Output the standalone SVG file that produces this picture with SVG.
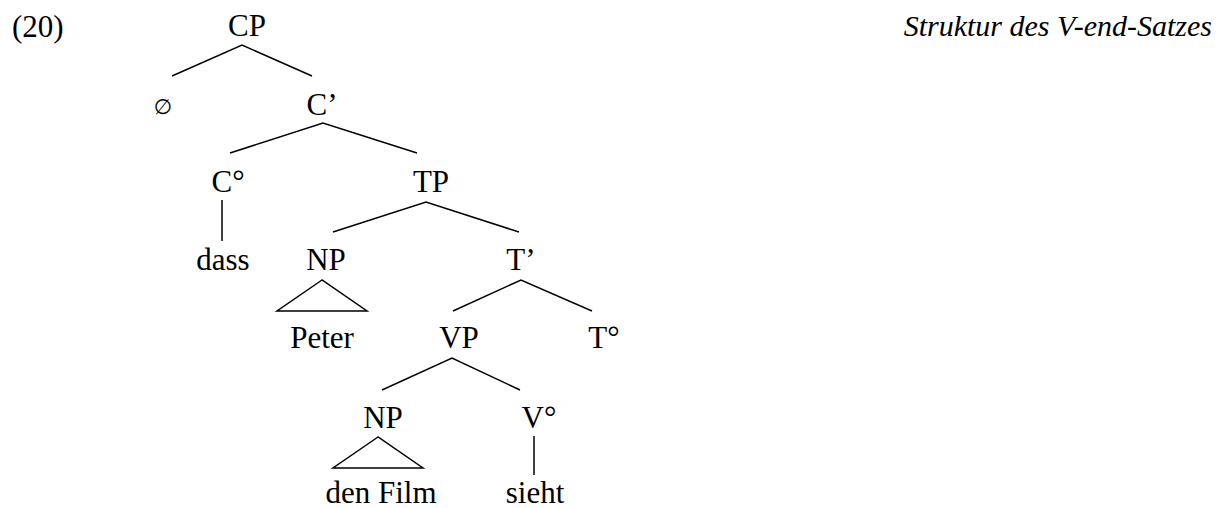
<svg xmlns="http://www.w3.org/2000/svg" width="1225" height="508" viewBox="0 0 1225 508">
  <style>
    text { font-family: "Liberation Serif", "Times New Roman", Times, "DejaVu Serif", serif; font-size: 31px; fill: #000; }
    .lbl { text-anchor: middle; }
    .cap { font-style: italic; font-size: 30px; text-anchor: end; }
    .empty { font-family: "DejaVu Sans", sans-serif; font-size: 21px; text-anchor: middle; }
    .edge { stroke: #000; stroke-width: 1.5; fill: none; stroke-linejoin: miter; }
  </style>
  <rect width="1225" height="508" fill="#fff"/>

  <text x="12" y="37">(20)</text>
  <text class="cap" x="1212" y="36">Struktur des V-end-Satzes</text>

  <!-- tree branches -->
  <g id="connectors">
    <path class="edge" d="M172,76 L242,45 L312,76"/>
    <path class="edge" d="M230,153 L323,123 L417,153"/>
    <path class="edge" d="M222,200 L222,241"/>
    <path class="edge" d="M333,232 L426,202 L519,232"/>
    <path class="edge" d="M322,280 L277,311 L367,311 Z"/>
    <path class="edge" d="M453,311 L521,280 L592,311"/>
    <path class="edge" d="M382,390 L452,358 L520,390"/>
    <path class="edge" d="M378,437 L333,468 L423,468 Z"/>
    <path class="edge" d="M534,436 L534,475"/>
  </g>

  <!-- tree nodes -->
  <g id="node-CP"><text class="lbl" x="247" y="36">CP</text></g>
  <g id="node-empty"><text class="empty" x="163" y="114">∅</text></g>
  <g id="node-Cbar"><text class="lbl" x="322" y="115">C’</text></g>
  <g id="node-C0"><text class="lbl" x="228" y="192">C°</text></g>
  <g id="node-TP"><text class="lbl" x="431" y="192">TP</text></g>
  <g id="node-dass"><text class="lbl" x="223" y="270">dass</text></g>
  <g id="node-NP1"><text class="lbl" x="326" y="270">NP</text></g>
  <g id="node-Tbar"><text class="lbl" x="521" y="270">T’</text></g>
  <g id="node-Peter"><text class="lbl" x="322" y="348">Peter</text></g>
  <g id="node-VP"><text class="lbl" x="459" y="348">VP</text></g>
  <g id="node-T0"><text class="lbl" x="604" y="348">T°</text></g>
  <g id="node-NP2"><text class="lbl" x="383" y="428">NP</text></g>
  <g id="node-V0"><text class="lbl" x="539" y="428">V°</text></g>
  <g id="node-denFilm"><text class="lbl" x="381" y="503">den Film</text></g>
  <g id="node-sieht"><text class="lbl" x="535" y="503">sieht</text></g>
</svg>
